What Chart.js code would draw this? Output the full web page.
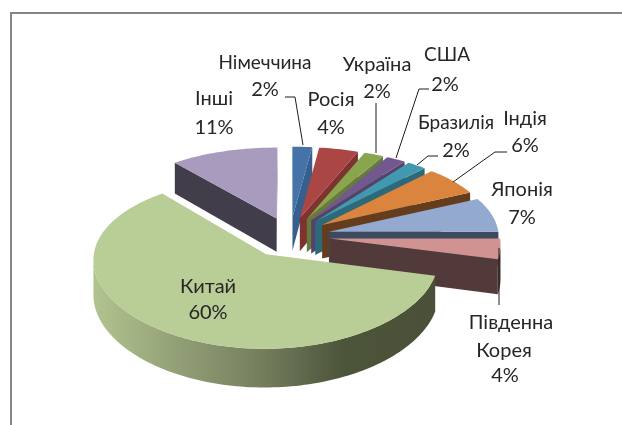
<!DOCTYPE html>
<html>
<head>
<meta charset="utf-8">
<style>
  html, body { margin: 0; padding: 0; background: #fff; overflow: hidden; }
  #wrap { position: relative; width: 622px; height: 425px; }
</style>
<script src="https://cdn.jsdelivr.net/npm/chart.js@4/dist/chart.umd.min.js"></script>
</head>
<body>
<div id="wrap"><canvas id="myChart" width="622" height="425"></canvas></div>
<script>
// DATA
const categories = ["Німеччина", "Росія", "Україна", "США", "Бразилія", "Індія", "Японія", "Південна Корея", "Китай", "Інші"];
const shares = [2, 4, 2, 2, 2, 6, 7, 4, 60, 11];

// colours, top face and wall of every slice
const topColors = ["#4573a7", "#aa4643", "#89a54e", "#71588f", "#4198af", "#db843d", "#93a9cf", "#d19392", "#b9cd96", "#a99bbd"];
const wallColors = ["#365e8e", "#7e3331", "#667b3a", "#544269", "#2c6a7a", "#653d1d", "#3b4a5e", "#523a3b", "#4a5138", "#413d4b"];
const explode = [40, 40, 40, 40, 40, 40, 40, 40, 44, 40];

// label text, one row per line: text, centre x, baseline y
const labelRows = [
  ["Німеччина", 265, 69], ["2%", 265, 96],
  ["Україна", 377, 71], ["2%", 377, 98],
  ["США", 447, 61], ["2%", 445, 91],
  ["Росія", 331, 106], ["4%", 331, 134],
  ["Інші", 214, 105], ["11%", 214, 134],
  ["Бразилія", 456, 129], ["2%", 456, 157],
  ["Індія", 525, 125], ["6%", 525, 152],
  ["Японія", 522, 196], ["7%", 522, 224],
  ["Південна", 511, 329], ["Корея", 504, 357], ["4%", 505, 382],
  ["Китай", 208, 293], ["60%", 208, 319]
];
const smallLabels = ["Німеччина", "США", "Бразилія"];

// leader lines
const leaders = [
  [[285, 97], [295, 97], [303, 145]],
  [[376, 103], [376, 153]],
  [[429, 89], [419, 89], [396, 158]],
  [[438, 156], [428, 156], [417, 165]],
  [[507, 152], [495, 152], [453, 182]],
  [[499, 248], [499, 305]]
];

// 3D view
const flat = 0.478;     // how much the pie plane is squashed
const camera = 1700;    // distance for the perspective
const depth = 34;       // slice height

function project(arc, u, v, z) {
  const s = camera / (camera - v);
  return [arc.x + u * Math.pow(s, 0.6), arc.y + flat * v * s + z * s];
}

function tracePoly(ctx, pts) {
  ctx.beginPath();
  pts.forEach((p, i) => (i ? ctx.lineTo(p[0], p[1]) : ctx.moveTo(p[0], p[1])));
  ctx.closePath();
}

function drawSlice(ctx, arc, i) {
  const off = arc.options.offset;
  const r = arc.outerRadius;
  const mid = (arc.startAngle + arc.endAngle) / 2;
  const ax = Math.cos(mid) * off;
  const ay = Math.sin(mid) * off;

  const steps = Math.max(6, Math.ceil((arc.endAngle - arc.startAngle) * 40));
  const rim = [];
  for (let k = 0; k <= steps; k++) {
    const a = arc.startAngle + (arc.endAngle - arc.startAngle) * k / steps;
    rim.push([ax + Math.cos(a) * r, ay + Math.sin(a) * r]);
  }
  const apexTop = project(arc, ax, ay, 0);
  const apexLow = project(arc, ax, ay, depth);
  const rimTop = rim.map(p => project(arc, p[0], p[1], 0));
  const rimLow = rim.map(p => project(arc, p[0], p[1], depth));

  ctx.fillStyle = wallColors[i];

  // radial walls, only the ones facing us
  const first = rimTop[0];
  const last = rimTop[rimTop.length - 1];
  if (first[0] < apexTop[0]) {
    tracePoly(ctx, [apexTop, first, rimLow[0], apexLow]);
    ctx.fill();
  }
  if (last[0] > apexTop[0]) {
    tracePoly(ctx, [apexTop, last, rimLow[rimLow.length - 1], apexLow]);
    ctx.fill();
  }

  // outer wall, where the rim runs right to left on screen
  const up = [];
  const low = [];
  for (let k = 0; k < rimTop.length; k++) {
    const goesLeft = (k < rimTop.length - 1 && rimTop[k + 1][0] < rimTop[k][0]) ||
      (k > 0 && rimTop[k][0] < rimTop[k - 1][0]);
    if (goesLeft) {
      up.push(rimTop[k]);
      low.push(rimLow[k]);
    }
  }
  if (up.length > 1) {
    if (categories[i] === "Китай") {
      const g = ctx.createLinearGradient(92, 0, 440, 0);
      g.addColorStop(0, "#b3c48f");
      g.addColorStop(0.25, "#929f76");
      g.addColorStop(0.5, "#727c5c");
      g.addColorStop(0.72, "#4c543a");
      g.addColorStop(1, "#4a5138");
      ctx.fillStyle = g;
    }
    tracePoly(ctx, up.concat(low.reverse()));
    ctx.fill();
  }

  // top face
  ctx.fillStyle = topColors[i];
  tracePoly(ctx, [apexTop].concat(rimTop));
  ctx.fill();
}

const pie3d = {
  id: "pie3d",
  beforeDatasetDraw(chart, args) {
    const ctx = chart.ctx;
    const arcs = chart.getDatasetMeta(args.index).data;
    const order = arcs.map((a, i) => i).sort((p, q) => {
      const mp = (arcs[p].startAngle + arcs[p].endAngle) / 2;
      const mq = (arcs[q].startAngle + arcs[q].endAngle) / 2;
      return Math.sin(mp) - Math.sin(mq);
    });
    ctx.save();
    order.forEach(i => drawSlice(ctx, arcs[i], i));
    ctx.restore();
    return false; // the flat pie is replaced
  },
  afterDraw(chart) {
    const ctx = chart.ctx;
    ctx.save();

    // frame of the picture
    ctx.strokeStyle = "#858585";
    ctx.lineWidth = 2;
    ctx.beginPath();
    ctx.moveTo(11, 425);
    ctx.lineTo(11, 13);
    ctx.lineTo(622, 13);
    ctx.stroke();

    ctx.strokeStyle = "#1c1c1c";
    ctx.lineWidth = 1;
    leaders.forEach(line => {
      ctx.beginPath();
      line.forEach((p, i) => (i ? ctx.lineTo(p[0], p[1]) : ctx.moveTo(p[0], p[1])));
      ctx.stroke();
    });

    ctx.fillStyle = "#262626";
    ctx.textAlign = "center";
    ctx.textBaseline = "alphabetic";
    labelRows.forEach(row => {
      ctx.font = (smallLabels.includes(row[0]) ? "19px" : "20px") + " Lato";
      ctx.fillText(row[0], row[1], row[2]);
    });
    ctx.restore();
  }
};

new Chart(document.getElementById("myChart"), {
  type: "pie",
  data: {
    labels: categories,
    datasets: [{
      data: shares,
      backgroundColor: topColors,
      borderWidth: 0,
      offset: explode,
      radius: 170
    }]
  },
  options: {
    responsive: false,
    animation: false,
    events: [],
    layout: { padding: { top: 47, right: 42 } },
    plugins: { legend: { display: false }, tooltip: { enabled: false } }
  },
  plugins: [pie3d]
});
</script>
</body>
</html>
